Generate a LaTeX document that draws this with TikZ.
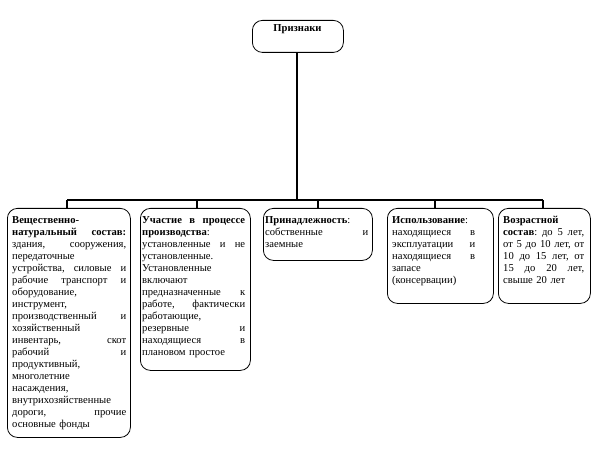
\documentclass[tikz,border=0pt]{standalone}
\usepackage{fontspec}
\setmainfont{Liberation Serif}
\tikzset{
  box/.style={draw, line width=0.8pt, rounded corners=10pt, inner sep=0pt, anchor=north west},
  txt/.style={anchor=north west, inner sep=0pt, align=left, font=\fontsize{10.6}{12}\selectfont},
  conn/.style={line width=1.8pt}
}
\begin{document}
\begin{tikzpicture}[x=1pt,y=-1pt]
\useasboundingbox (0,0) rectangle (594,449);
% top box
\node[box, minimum width=91pt, minimum height=32pt] (top) at (252,20) {};
\node[font=\fontsize{10.6}{12}\selectfont\bfseries, anchor=north, inner sep=0pt] (toplbl) at (297.5,24) {Признаки};
% boxes
\node[box, minimum width=123pt, minimum height=229pt] (b1) at (7,208) {};
\node[box, minimum width=110pt, minimum height=162pt] (b2) at (140,208) {};
\node[box, minimum width=109pt, minimum height=52pt] (b3) at (263,208) {};
\node[box, minimum width=106pt, minimum height=95pt] (b4) at (387,208) {};
\node[box, minimum width=92pt, minimum height=95pt] (b5) at (498,208) {};
% texts
\node[txt, text width=114pt] (t1) at (12,216) {%
\textbf{Вещественно-}\\
\textbf{натуральный\hfill состав:}\\
здания,\hfill сооружения,\\
передаточные\\
устройства,\hfill силовые\hfill и\\
рабочие\hfill транспорт\hfill и\\
оборудование,\\
инструмент,\\
производственный\hfill и\\
хозяйственный\\
инвентарь,\hfill скот\\
рабочий\hfill и\\
продуктивный,\\
многолетние\\
насаждения,\\
внутрихозяйственные\\
дороги,\hfill прочие\\
основные фонды};
\node[txt, text width=103pt] (t2) at (142,216) {%
\textbf{Участие\hfill в\hfill процессе}\\
\textbf{производства}:\\
установленные\hfill и\hfill не\\
установленные.\\
Установленные\\
включают\\
предназначенные\hfill к\\
работе,\hfill фактически\\
работающие,\\
резервные\hfill и\\
находящиеся\hfill в\\
плановом простое};
\node[txt, text width=103pt] (t3) at (265,216) {%
\textbf{Принадлежность}:\\
собственные\hfill и\\
заемные};
\node[txt, text width=83pt] (t4) at (392,216) {%
\textbf{Использование}:\\
находящиеся\hfill в\\
эксплуатации\hfill и\\
находящиеся\hfill в\\
запасе\\
(консервации)};
\node[txt, text width=81pt] (t5) at (503,216) {%
\textbf{Возрастной}\\
\textbf{состав}:\hfill до\hfill 5\hfill лет,\\
от\hfill 5\hfill до\hfill 10\hfill лет,\hfill от\\
10\hfill до\hfill 15\hfill лет,\hfill от\\
15\hfill до\hfill 20\hfill лет,\\
свыше 20 лет};
% connectors
\coordinate (d1) at (67,200);
\coordinate (d2) at (197,200);
\coordinate (d3) at (318,200);
\coordinate (d4) at (435,200);
\coordinate (d5) at (543,200);
\draw[conn] (top.south -| 297,0) -- (297,200);
\draw[conn] (d1) -- (d5);
\draw[conn] (d1) -- (d1 |- b1.north);
\draw[conn] (d2) -- (d2 |- b2.north);
\draw[conn] (d3) -- (d3 |- b3.north);
\draw[conn] (d4) -- (d4 |- b4.north);
\draw[conn] (d5) -- (d5 |- b5.north);
\end{tikzpicture}
\end{document}
